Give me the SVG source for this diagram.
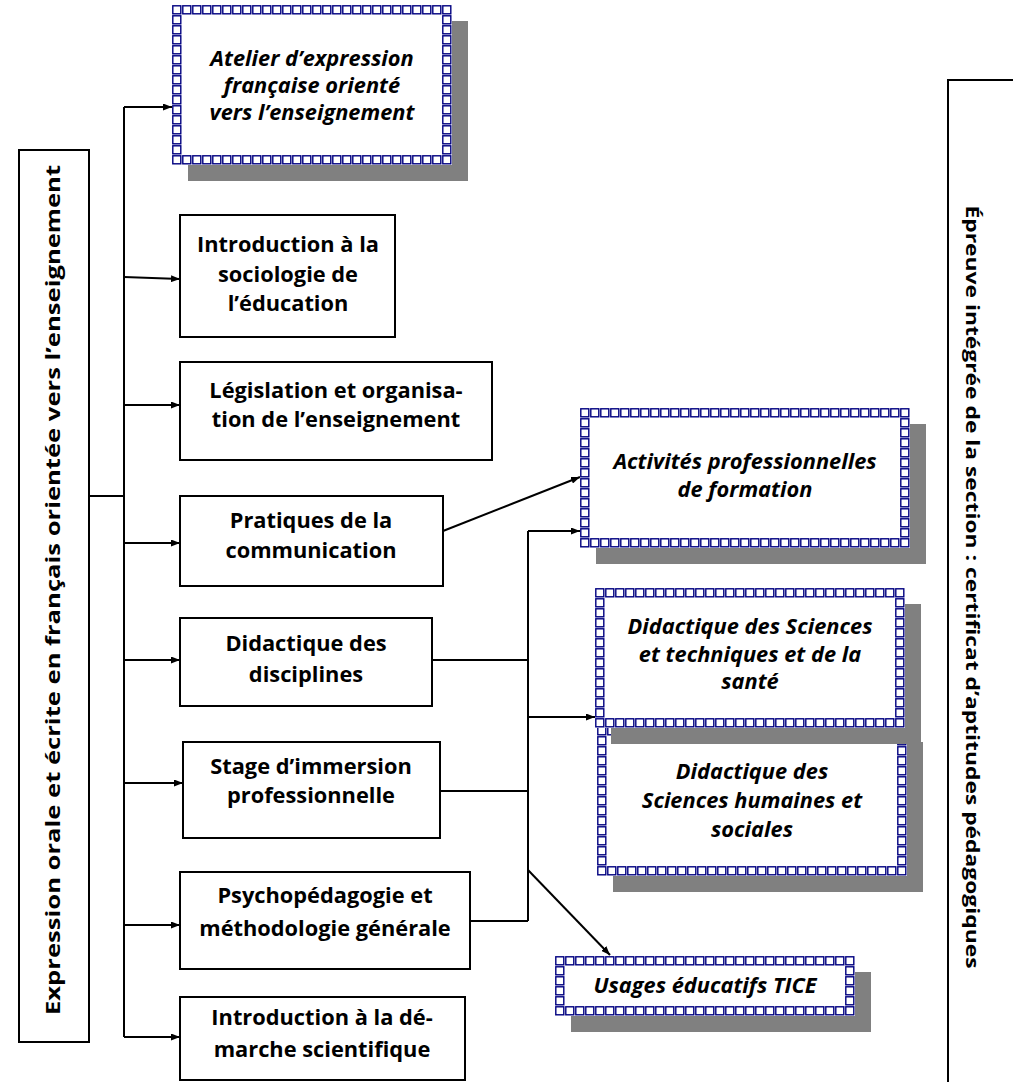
<svg xmlns="http://www.w3.org/2000/svg" width="1013" height="1082" viewBox="0 0 1013 1082">
<defs>
<style>
.box{fill:#fff;stroke:#000;stroke-width:2}
.t{font-family:"Open Sans","Liberation Sans",sans-serif;font-weight:bold;font-size:21.8px;text-anchor:middle;fill:#000}
.ti{font-style:italic}
.v{font-family:"Open Sans","Liberation Sans",sans-serif;font-weight:bold;text-anchor:middle;fill:#000}
.conn{stroke:#000;stroke-width:2;fill:none}
.arr{marker-end:url(#ah)}
.shadow{fill:#808080}
.band{fill:url(#sq)}
.inner{fill:#fff}
</style>
<pattern id="sq" width="10" height="10" patternUnits="userSpaceOnUse">
<rect x="0" y="0" width="10" height="10" fill="#fff"/>
<rect x="0.8" y="0.8" width="8" height="8" fill="#fff" stroke="#000080" stroke-width="1.4"/>
</pattern>
<marker id="ah" markerWidth="9" markerHeight="7" refX="9" refY="3.5" orient="auto" markerUnits="userSpaceOnUse">
<path d="M0,0 L9,3.5 L0,7 z" fill="#000"/>
</marker>
</defs>
<rect width="1013" height="1082" fill="#fff"/>

<g id="left-title">
<rect class="box" x="19" y="150" width="70" height="892"/>
<text class="v" font-size="20" transform="translate(60,590) rotate(-90)" textLength="850" lengthAdjust="spacingAndGlyphs">Expression orale et écrite en français orientée vers l’enseignement</text>
</g>

<g id="right-title">
<rect class="box" x="948" y="80" width="90" height="1020"/>
<text class="v" font-size="18" transform="translate(966,587) rotate(90)" textLength="763" lengthAdjust="spacingAndGlyphs">Épreuve intégrée de la section : certificat d’aptitudes pédagogiques</text>
</g>

<g id="connectors">
<path class="conn" d="M124,107 V1037"/>
<path class="conn" d="M89,496 H124"/>
<path class="conn arr" d="M124,107 H172"/>
<path class="conn arr" d="M124,277 L180,279"/>
<path class="conn arr" d="M124,405 H180"/>
<path class="conn arr" d="M124,543 H180"/>
<path class="conn arr" d="M124,660 H180"/>
<path class="conn arr" d="M124,783 H183"/>
<path class="conn arr" d="M124,925 H180"/>
<path class="conn arr" d="M124,1037 H180"/>
<path class="conn arr" d="M443,531 L580,477"/>
<path class="conn" d="M528,531 V921"/>
<path class="conn arr" d="M528,531 H580"/>
<path class="conn" d="M432,660 H528"/>
<path class="conn" d="M440,791 H528"/>
<path class="conn" d="M470,921 H528"/>
<path class="conn arr" d="M528,717 H595"/>
<path class="conn arr" d="M528,870 L610,955"/>
</g>

<g id="n-atelier" transform="translate(172,5)">
<rect class="shadow" x="16" y="16" width="280" height="160"/>
<rect class="band" width="280" height="160"/>
<rect class="inner" x="10" y="10" width="260" height="140"/>
<text class="t ti" x="140" y="61">Atelier d’expression</text>
<text class="t ti" x="140" y="88">française orienté</text>
<text class="t ti" x="140" y="115">vers l’enseignement</text>
</g>

<g id="n-sociologie">
<rect class="box" x="180" y="215" width="215" height="122"/>
<text class="t" x="288" y="252">Introduction à la</text>
<text class="t" x="288" y="282">sociologie de</text>
<text class="t" x="288" y="311">l’éducation</text>
</g>

<g id="n-legislation">
<rect class="box" x="180" y="362" width="312" height="98"/>
<text class="t" x="336" y="398">Législation et organisa-</text>
<text class="t" x="336" y="427">tion de l’enseignement</text>
</g>

<g id="n-pratiques">
<rect class="box" x="180" y="496" width="263" height="90"/>
<text class="t" x="311" y="528">Pratiques de la</text>
<text class="t" x="311" y="558">communication</text>
</g>

<g id="n-didactique">
<rect class="box" x="180" y="618" width="252" height="88"/>
<text class="t" x="306" y="651">Didactique des</text>
<text class="t" x="306" y="682">disciplines</text>
</g>

<g id="n-stage">
<rect class="box" x="183" y="742" width="257" height="96"/>
<text class="t" x="311" y="774">Stage d’immersion</text>
<text class="t" x="311" y="803">professionnelle</text>
</g>

<g id="n-psycho">
<rect class="box" x="180" y="872" width="290" height="97"/>
<text class="t" x="325" y="903">Psychopédagogie et</text>
<text class="t" x="325" y="936">méthodologie générale</text>
</g>

<g id="n-demarche">
<rect class="box" x="180" y="997" width="285" height="83"/>
<text class="t" x="322" y="1025">Introduction à la dé-</text>
<text class="t" x="322" y="1057">marche scientifique</text>
</g>

<g id="n-activites" transform="translate(580,408)">
<rect class="shadow" x="16" y="16" width="330" height="140"/>
<rect class="band" width="330" height="140"/>
<rect class="inner" x="10" y="10" width="310" height="120"/>
<text class="t ti" x="165" y="61">Activités professionnelles</text>
<text class="t ti" x="165" y="89">de formation</text>
</g>

<g id="n-did-humaines" transform="translate(597,726)">
<rect class="shadow" x="16" y="16" width="310" height="150"/>
<rect class="band" width="310" height="150"/>
<rect class="inner" x="10" y="10" width="290" height="130"/>
<text class="t ti" x="155" y="53">Didactique des</text>
<text class="t ti" x="155" y="82">Sciences humaines et</text>
<text class="t ti" x="155" y="111">sociales</text>
</g>

<g id="n-did-sciences" transform="translate(595,588)">
<rect class="shadow" x="16" y="16" width="310" height="140"/>
<rect class="band" width="310" height="140"/>
<rect class="inner" x="10" y="10" width="290" height="120"/>
<text class="t ti" x="155" y="46">Didactique des Sciences</text>
<text class="t ti" x="155" y="74">et techniques et de la</text>
<text class="t ti" x="155" y="101">santé</text>
</g>

<g id="n-tice" transform="translate(555,956)">
<rect class="shadow" x="16" y="16" width="300" height="60"/>
<rect class="band" width="300" height="60"/>
<rect class="inner" x="10" y="10" width="280" height="40"/>
<text class="t ti" x="150" y="37">Usages éducatifs TICE</text>
</g>
</svg>
